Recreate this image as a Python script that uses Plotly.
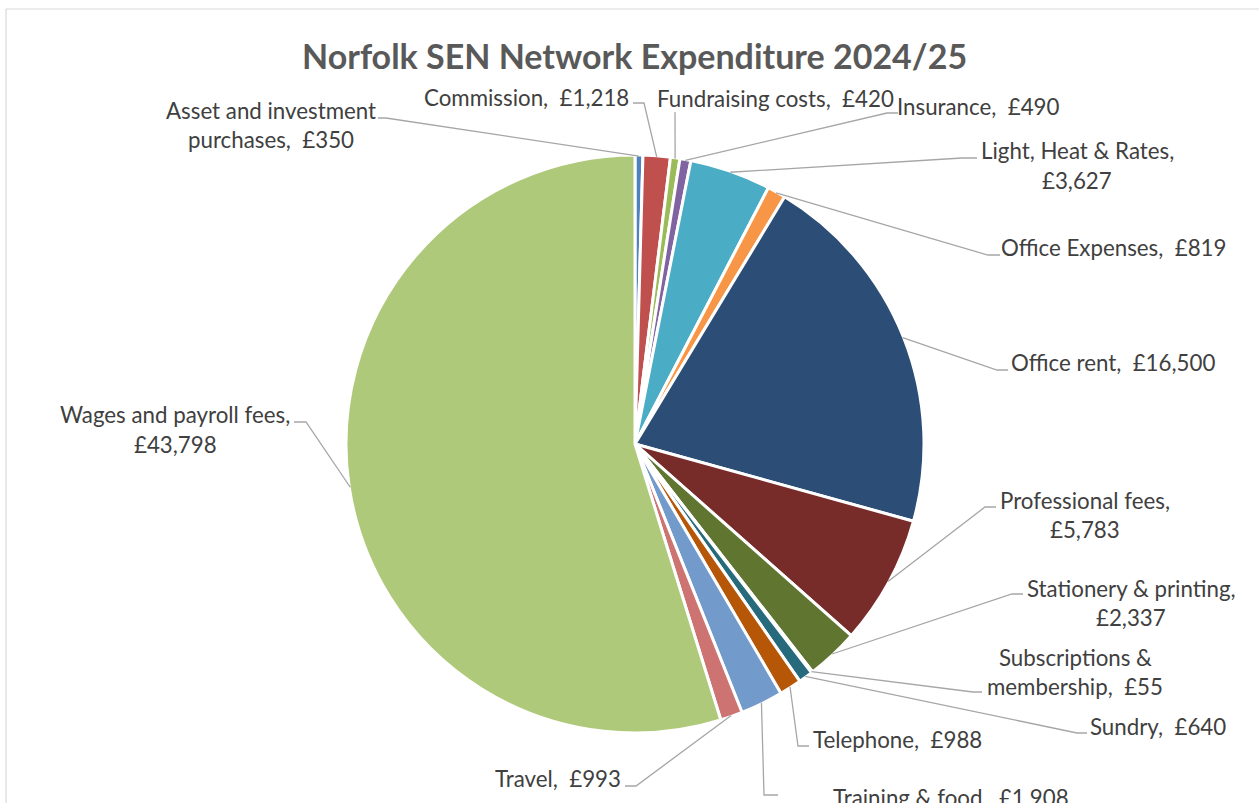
import plotly.graph_objects as go
import math

W, H = 1259, 803

# ---------------- data ----------------
categories = [
    "Asset and investment purchases", "Commission", "Fundraising costs", "Insurance",
    "Light, Heat & Rates", "Office Expenses", "Office rent", "Professional fees",
    "Stationery & printing", "Subscriptions & membership", "Sundry", "Telephone",
    "Training & food", "Travel", "Wages and payroll fees",
]
values = [350, 1218, 420, 490, 3627, 819, 16500, 5783, 2337, 55, 640, 988, 1908, 993, 43798]
colors = [
    "#4F81BD", "#C0504D", "#9BBB59", "#8064A2", "#4BACC6", "#F79646", "#2C4D75", "#772C2A",
    "#5F7530", "#4D3B62", "#276A7C", "#B65708", "#729ACA", "#CD7371", "#AFC97A",
]
title_text = "Norfolk SEN Network Expenditure 2024/25"

# ---------------- layout (pixel positions) ----------------
CX, CY, R = 635, 444, 289
# number of words on the first line (None = single line)
wrap_words = [3, None, None, None, 4, None, None, 2, 3, 2, None, None, None, None, 4]
# label centre x, first-line centre y
label_pos = [
    (271, 110), (526, 97), (775, 98), (978, 107), (1077, 151), (1113, 247),
    (1113, 362), (1085, 500), (1131, 588), (1075, 657), (1158, 726), (897, 739),
    (951, 797), (558, 778), (175, 415),
]
# leader elbow (x, y) and tail end x near label
leader_pts = [
    (386, 118, 378), (644, 103, 633), (675, 112, 675), (887, 113, 898),
    (962, 158, 977), (988, 255, 1000), (997, 370, 1008), (985, 507, 996),
    (1012, 594, 1023), (973, 692, 982), (1077, 733, 1087), (798, 746, 809),
    (764, 795, 778), (636, 786, 625), (306, 422, 294),
]
LINE_GAP = 29
FONT = "Lato"
TXT = "#404040"


def px(x):
    return x / W


def py(y):
    return 1 - y / H


total = sum(values)
fig = go.Figure()
fig.add_trace(go.Pie(
    labels=categories, values=values, sort=False, direction="clockwise", rotation=0,
    marker=dict(colors=colors, line=dict(color="white", width=3)),
    textinfo="none", showlegend=False, hoverinfo="label+value+percent",
    domain=dict(x=[px(CX - R), px(CX + R)], y=[py(CY + R), py(CY - R)]),
))

annotations = []
shapes = []
cum = 0
for i, (cat, v) in enumerate(zip(categories, values)):
    mid = (cum + v / 2) / total * 2 * math.pi
    cum += v
    ex = CX + (R - 1) * math.sin(mid)
    ey = CY - (R - 1) * math.cos(mid)
    full = f"{cat}, \u00a0£{v:,}"
    toks = full.split(" ")
    k = wrap_words[i]
    if k is None:
        lines = [" ".join(toks).strip()]
    else:
        lines = [" ".join(toks[:k]).strip(), " ".join(toks[k:]).strip()]
    lx, ly = label_pos[i]
    for j, ln in enumerate(lines):
        annotations.append(dict(
            x=px(lx), y=py(ly + j * LINE_GAP), xref="paper", yref="paper",
            text=ln, showarrow=False, xanchor="center", yanchor="middle",
            font=dict(family=FONT, size=22.3, color=TXT),
        ))
    bx, by, tx = leader_pts[i]
    path = f"M {px(ex)},{py(ey)} L {px(bx)},{py(by)} L {px(tx)},{py(by)}"
    shapes.append(dict(type="path", xref="paper", yref="paper", path=path,
                       line=dict(color="#A6A6A6", width=1.3)))

# chart-area border (top and left visible)
shapes.append(dict(type="line", xref="paper", yref="paper", x0=px(6), x1=1.0, y0=py(9), y1=py(9),
                   line=dict(color="#D9D9D9", width=1.2)))
shapes.append(dict(type="line", xref="paper", yref="paper", x0=px(6), x1=px(6), y0=py(9), y1=0,
                   line=dict(color="#D9D9D9", width=1.2)))

annotations.append(dict(
    x=px(634), y=py(55), xref="paper", yref="paper", text=f"<b>{title_text}</b>",
    showarrow=False, xanchor="center", yanchor="middle",
    font=dict(family=FONT, size=34, color="#595959"),
))

fig.update_layout(
    width=W, height=H, margin=dict(l=0, r=0, t=0, b=0),
    paper_bgcolor="white", plot_bgcolor="white",
    annotations=annotations, shapes=shapes, showlegend=False,
)
fig.write_html("out.html")
